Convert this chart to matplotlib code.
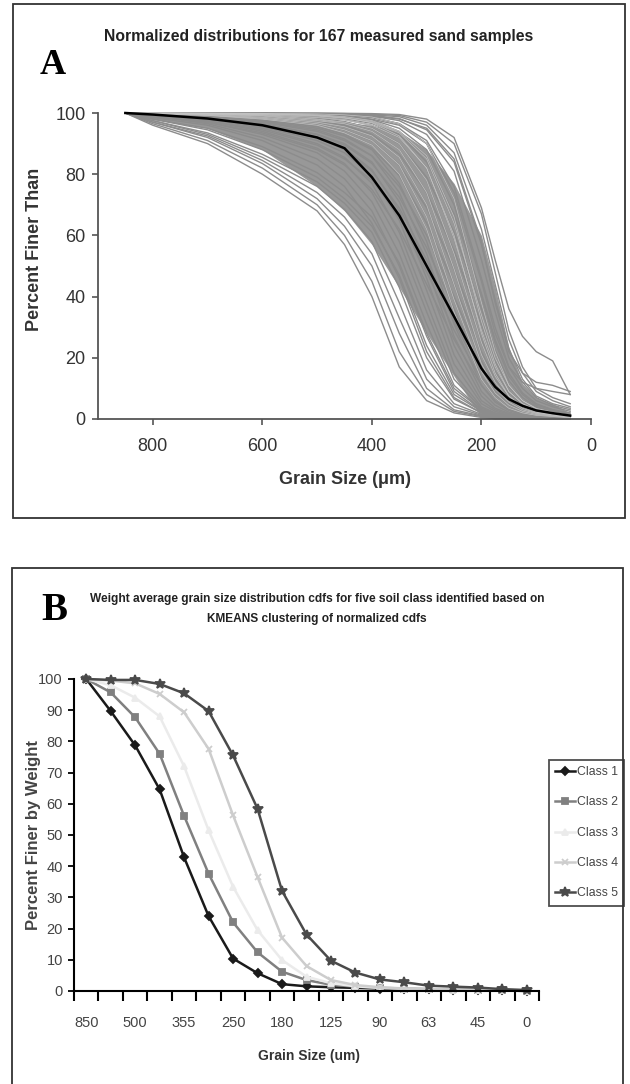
# two panel figure: sand sample cdfs (A) and kmeans class averages (B)

import matplotlib.pyplot as plt
from matplotlib.patches import Rectangle

W, H = 630, 1084

sans = ["Liberation Sans", "DejaVu Sans"]
serif = ["Liberation Serif", "DejaVu Serif"]

# ---- panel A data ----
grain_a = [850, 800, 700, 600, 500, 450, 400, 350, 300, 250, 200, 175, 150, 125, 100, 70, 38]

mean_a = [100, 99.5, 98.2, 96, 92, 88.5, 79, 66.5, 50, 33.5, 16.5, 10.5, 6.5, 4.3, 2.8, 1.9, 1.1]

# where the curves pile up into a solid grey band
core_upper = [100, 99.5, 99, 98, 97.5, 97, 96, 94, 88, 77, 60, 43, 23.5, 11.5, 7, 5, 2]
core_lower = [100, 98, 95, 88, 76, 68, 57, 43, 28, 14, 0.5, 0, 0, 0, 0, 0, 0]

coarse_a = [
    [100, 96, 90, 80, 68, 57, 40, 17, 6, 2, 0.5, 0.3, 0.2, 0.1, 0, 0, 0],
    [100, 96.5, 91, 82, 70, 60, 45, 22, 8, 2.5, 0.8, 0.4, 0.2, 0.1, 0, 0, 0],
    [100, 97, 92, 83.5, 72, 63, 50, 28, 10, 3, 1, 0.5, 0.3, 0.1, 0, 0, 0],
    [100, 97, 92.5, 84.5, 74, 66, 54, 33, 13, 4, 1.2, 0.6, 0.3, 0.2, 0.1, 0, 0],
    [100, 97.5, 93, 85.5, 76, 68.5, 58, 38, 16, 5, 1.5, 0.8, 0.4, 0.2, 0.1, 0, 0],
    [100, 97.5, 93.5, 86.5, 77.5, 70.5, 61, 43, 20, 6.5, 2, 1, 0.5, 0.3, 0.1, 0, 0],
    [100, 98, 94.5, 88, 79, 72, 63, 47, 24, 8, 2.5, 1.2, 0.6, 0.3, 0.2, 0.1, 0],
    [100, 98, 95, 89, 80.5, 74, 66, 51, 28, 10, 3, 1.5, 0.8, 0.4, 0.2, 0.1, 0],
]

band_a = [
    [100, 98.5, 96, 91, 83, 76, 64, 46, 22, 7, 2, 1, 0.5, 0.3, 0.2, 0.1, 0],
    [100, 99, 96.5, 92, 85, 78.5, 68, 50, 27, 9, 2.5, 1.2, 0.6, 0.3, 0.2, 0.1, 0],
    [100, 99, 97, 93, 87, 81, 71, 54, 31, 11, 3, 1.5, 0.8, 0.4, 0.2, 0.1, 0],
    [100, 99, 97.5, 94, 88.5, 83.5, 74, 58, 35, 13, 3.5, 1.8, 1, 0.5, 0.3, 0.2, 0.1],
    [100, 99.2, 98, 95, 90, 85.5, 77, 61, 38, 15, 4, 2, 1, 0.5, 0.3, 0.2, 0.1],
    [100, 99.3, 98, 95.5, 91, 87, 79.5, 65, 42, 18, 5, 2.5, 1.2, 0.6, 0.4, 0.2, 0.1],
    [100, 99.5, 98.5, 96, 92, 88.5, 81.5, 68, 46, 21, 6, 3, 1.5, 0.8, 0.5, 0.3, 0.2],
    [100, 99.5, 98.5, 96.5, 93, 90, 84, 71, 50, 24, 7.5, 3.5, 1.8, 1, 0.6, 0.4, 0.2],
    [100, 99.6, 98.8, 97, 94, 91, 86, 74, 54, 27, 9, 4.5, 2.2, 1.2, 0.8, 0.5, 0.3],
    [100, 99.7, 99, 97.5, 95, 92.5, 88, 77, 58, 31, 11, 5.5, 2.8, 1.5, 1, 0.6, 0.3],
    [100, 99.7, 99.2, 98, 96, 93.5, 89.5, 80, 62, 35, 13, 7, 3.5, 2, 1.2, 0.8, 0.4],
    [100, 99.8, 99.3, 98.3, 96.5, 94.5, 91, 83, 66, 39, 15.5, 8.5, 4.5, 2.5, 1.5, 1, 0.5],
    [100, 99.8, 99.5, 98.6, 97, 95.5, 92.5, 85.5, 70, 44, 18, 10, 5.5, 3, 1.8, 1.2, 0.6],
    [100, 99.9, 99.6, 99, 97.5, 96.5, 94, 88, 74, 49, 21, 12, 6.5, 3.5, 2, 1.4, 0.7],
    [100, 99.9, 99.7, 99.2, 98, 97, 95, 90, 78, 54, 25, 14, 7.5, 4, 2.3, 1.5, 0.8],
    [100, 99.9, 99.8, 99.4, 98.5, 97.8, 96, 92, 82, 59, 29, 17, 9, 5, 2.8, 1.8, 1],
    [100, 100, 99.8, 99.5, 99, 98.3, 97, 93.5, 85, 64, 34, 20, 11, 6, 3.3, 2, 1.2],
    [100, 99, 97, 93.5, 88, 83, 75, 62, 44, 26, 11, 6, 3, 1.5, 0.8, 0.4, 0.2],
    [100, 99.2, 97.5, 94.5, 89.5, 85, 78, 66, 48, 29, 13, 7, 3.5, 1.8, 1, 0.5, 0.3],
    [100, 99.4, 98.2, 96, 92, 88, 81, 69, 52, 32, 14, 8, 4.5, 2.5, 1.4, 0.8, 0.4],
    [100, 99.5, 98.5, 96.5, 93, 89.5, 83.5, 72.5, 56, 36, 16, 9, 5, 2.8, 1.6, 1, 0.5],
    [100, 99.6, 98.8, 97.2, 94.5, 91.5, 86, 76, 60, 40, 19, 11, 6, 3.3, 2, 1.2, 0.6],
    [100, 99.7, 99.1, 97.8, 95.5, 93, 88.5, 79.5, 64, 44, 22, 13, 7.2, 4, 2.3, 1.4, 0.7],
    [100, 99.8, 99.4, 98.4, 96.5, 94.5, 91, 83, 69, 49, 26, 15.5, 8.5, 4.8, 2.7, 1.7, 0.9],
    [100, 99.9, 99.6, 99, 97.5, 96, 93, 86.5, 74, 55, 31, 19, 10.5, 6, 3.3, 2, 1],
    [100, 99.9, 99.7, 99.3, 98.3, 97.2, 95, 90, 79, 61, 36, 22.5, 12.5, 7, 4, 2.5, 1.3],
    [100, 100, 99.8, 99.6, 99, 98.2, 96.6, 93, 84, 67, 41, 26, 15, 8.5, 5, 3, 1.5],
]

fine_a = [
    [100, 100, 100, 99.9, 99.7, 99.4, 98.7, 96.5, 90, 72, 38, 22, 11, 6, 3.5, 2.2, 1.2],
    [100, 100, 99.9, 99.8, 99.4, 98.8, 97.5, 94, 86, 66, 32, 18, 9, 5, 3, 1.8, 1],
    [100, 100, 99.9, 99.7, 99.2, 98.5, 96.8, 92.5, 82, 60, 28, 15, 7.5, 4, 2.3, 1.4, 0.8],
    [100, 100, 99.9, 99.7, 99.3, 98.8, 97.8, 95, 88, 70, 40, 25, 14, 8, 4.5, 3, 2],
    [100, 100, 99.9, 99.8, 99.5, 99.2, 98.5, 96.5, 91, 76, 46, 30, 17, 10, 6, 4, 2.5],
    [100, 100, 100, 99.8, 99.6, 99.4, 99, 97.5, 93, 81, 52, 35, 20, 12, 7, 4.5, 3],
    [100, 100, 100, 99.9, 99.7, 99.5, 99.2, 98.2, 94.5, 84, 57, 39, 23, 13, 7.5, 5, 3.5],
    [100, 100, 100, 99.9, 99.8, 99.7, 99.4, 98.8, 96, 87, 62, 44, 26, 15, 9, 6, 4],
    [100, 100, 100, 100, 99.9, 99.8, 99.6, 99.2, 97, 90, 67, 48, 29, 17, 10, 7, 5],
    [100, 100, 100, 100, 100, 99.9, 99.8, 99.5, 98, 92, 69, 52, 36, 27, 22, 19, 8],
    [100, 100, 100, 99.9, 99.7, 99.5, 99, 98, 95, 85, 58, 38, 22, 15, 12, 11, 9],
    [100, 100, 99.9, 99.8, 99.5, 99, 98, 96, 90, 74, 45, 28, 17, 12, 10, 9, 8],
]

# ---- panel B data ----
sizes_b = ["850", "600", "500", "425", "355", "300", "250", "212", "180", "150",
           "125", "106", "90", "75", "63", "53", "45", "38", "0"]

class_names = ["Class 1", "Class 2", "Class 3", "Class 4", "Class 5"]
class1 = [100, 89.7, 78.7, 64.6, 42.8, 24.0, 10.4, 5.7, 2.2, 1.5, 1.2, 1.0, 0.8, 0.6, 0.5, 0.4, 0.3, 0.2, 0]
class2 = [100, 95.7, 87.7, 76.0, 56.1, 37.6, 22.0, 12.4, 6.2, 3.5, 2.0, 1.4, 1.0, 0.8, 0.6, 0.5, 0.4, 0.3, 0.1]
class3 = [100, 98, 94, 88, 72, 51.5, 33.4, 19.5, 9.9, 4.6, 2.5, 1.5, 1.0, 0.7, 0.5, 0.4, 0.3, 0.2, 0.1]
class4 = [100, 99.5, 98.6, 95.2, 89.3, 77.6, 56.3, 36.5, 17.1, 8.0, 3.5, 1.9, 1.2, 0.8, 0.6, 0.4, 0.3, 0.2, 0.1]
class5 = [100, 99.7, 99.7, 98.4, 95.4, 89.7, 75.5, 58.4, 32.1, 18.1, 9.7, 5.9, 3.7, 2.8, 1.7, 1.4, 1.1, 0.6, 0.3]

class_colors = ["#1a1a1a", "#808080", "#ebebeb", "#cdcdcd", "#4a4a4a"]
class_markers = ["D", "s", "^", "x", "*"]


def fx(px):
    return px / W


def fy(py):
    return 1 - py / H


fig = plt.figure(figsize=(W / 100, H / 100), dpi=100)

# frames round the two panels
fig.add_artist(Rectangle((fx(13), fy(518)), fx(625) - fx(13), fy(4) - fy(518),
                         transform=fig.transFigure, fill=False, ec="#333333", lw=1.3))
fig.add_artist(Rectangle((fx(12), fy(1100)), fx(623) - fx(12), fy(568) - fy(1100),
                         transform=fig.transFigure, fill=False, ec="#333333", lw=1.3))

# ---------------- A ----------------
ax = fig.add_axes([fx(98), fy(419), fx(591) - fx(98), fy(113) - fy(419)])
ax.fill_between(grain_a, core_lower, core_upper, color="#989898", lw=0)
for s in coarse_a + band_a + fine_a:
    ax.plot(grain_a, s, color="#8c8c8c", lw=1.0, clip_on=False)
# a few light streaks like the original's overprinted band
for s in band_a[10:17] + fine_a[:3]:
    ax.plot(grain_a, s, color="#c4c4c4", lw=0.5, clip_on=False)
ax.plot(grain_a, mean_a, color="black", lw=1.8, clip_on=False)

ax.set_xlim(900, 0)
ax.set_ylim(0, 100)
ax.set_xticks([800, 600, 400, 200, 0])
ax.set_yticks([0, 20, 40, 60, 80, 100])
for side in ["top", "right"]:
    ax.spines[side].set_visible(False)
for side in ["left", "bottom"]:
    ax.spines[side].set_color("#555555")
    ax.spines[side].set_linewidth(1.3)
ax.tick_params(direction="out", length=4, width=1.2, color="#555555",
               labelsize=13, labelcolor="#333333")
ax.tick_params(axis="x", pad=10)
ax.tick_params(axis="y", pad=5)
for lab in ax.get_xticklabels() + ax.get_yticklabels():
    lab.set_family(sans)

fig.text(fx(319), fy(36), "Normalized distributions for 167 measured sand samples",
         ha="center", va="center", family=sans, fontsize=11.3, fontweight="bold",
         color="#222222")
fig.text(fx(53), fy(66), "A", ha="center", va="center", family=serif,
         fontsize=26, fontweight="bold")
fig.text(fx(345), fy(480), "Grain Size (\u03bcm)", ha="center", va="center",
         family=sans, fontsize=13, fontweight="bold", color="#333333")
fig.text(fx(35), fy(249), "Percent Finer Than", ha="center", va="center",
         rotation=90, family=sans, fontsize=13, fontweight="bold", color="#333333")

# ---------------- B ----------------
bx = fig.add_axes([fx(74), fy(991), fx(539) - fx(74), fy(679) - fy(991)])
series_b = [class1, class2, class3, class4, class5]
pos = list(range(len(sizes_b)))
for vals, name, col, mk in zip(series_b, class_names, class_colors, class_markers):
    ms = 7 if mk == "*" else 4.5
    bx.plot(pos, vals, color=col, marker=mk, ms=ms, mew=1.3, lw=1.8,
            label=name, clip_on=False)

bx.set_xlim(-0.5, len(sizes_b) - 0.5)
bx.set_ylim(0, 100)
bx.set_yticks(range(0, 101, 10))
bx.set_xticks([p - 0.5 for p in range(len(sizes_b) + 1)])
bx.set_xticklabels([])
bx.set_xticks(pos[::2], minor=True)
bx.set_xticklabels(sizes_b[::2], minor=True)
for side in ["top", "right"]:
    bx.spines[side].set_visible(False)
for side in ["left", "bottom"]:
    bx.spines[side].set_linewidth(1.5)
bx.tick_params(axis="x", which="major", direction="out", length=7, width=1.5)
bx.tick_params(axis="x", which="minor", length=0, pad=18, labelsize=10.5,
               labelcolor="#444444")
bx.tick_params(axis="y", direction="out", length=4, width=1.3, pad=4,
               labelsize=10.5, labelcolor="#444444")
for lab in bx.get_xticklabels(minor=True) + bx.get_yticklabels():
    lab.set_family(sans)

leg = bx.legend(loc="upper left", bbox_to_anchor=(fx(549), fy(760)),
                bbox_transform=fig.transFigure, frameon=True, fancybox=False,
                prop={"family": sans, "size": 8.8}, handlelength=1.6,
                handletextpad=0.2, labelspacing=1.5, borderpad=0.5,
                borderaxespad=0)
leg.get_frame().set_edgecolor("#222222")
leg.get_frame().set_linewidth(1.3)
for t in leg.get_texts():
    t.set_color("#444444")

fig.text(fx(317), fy(609), "Weight average grain size distribution cdfs for five soil class identified based on\nKMEANS clustering of normalized cdfs",
         ha="center", va="center", family=sans, fontsize=8.6, fontweight="bold",
         linespacing=1.9, color="#222222")
fig.text(fx(54), fy(610), "B", ha="center", va="center", family=serif,
         fontsize=28, fontweight="bold")
fig.text(fx(309), fy(1056), "Grain Size (um)", ha="center", va="center",
         family=sans, fontsize=10, fontweight="bold", color="#333333")
fig.text(fx(34), fy(835), "Percent Finer by Weight", ha="center", va="center",
         rotation=90, family=sans, fontsize=12, fontweight="bold", color="#444444")

fig.savefig("out.png", dpi=100)
